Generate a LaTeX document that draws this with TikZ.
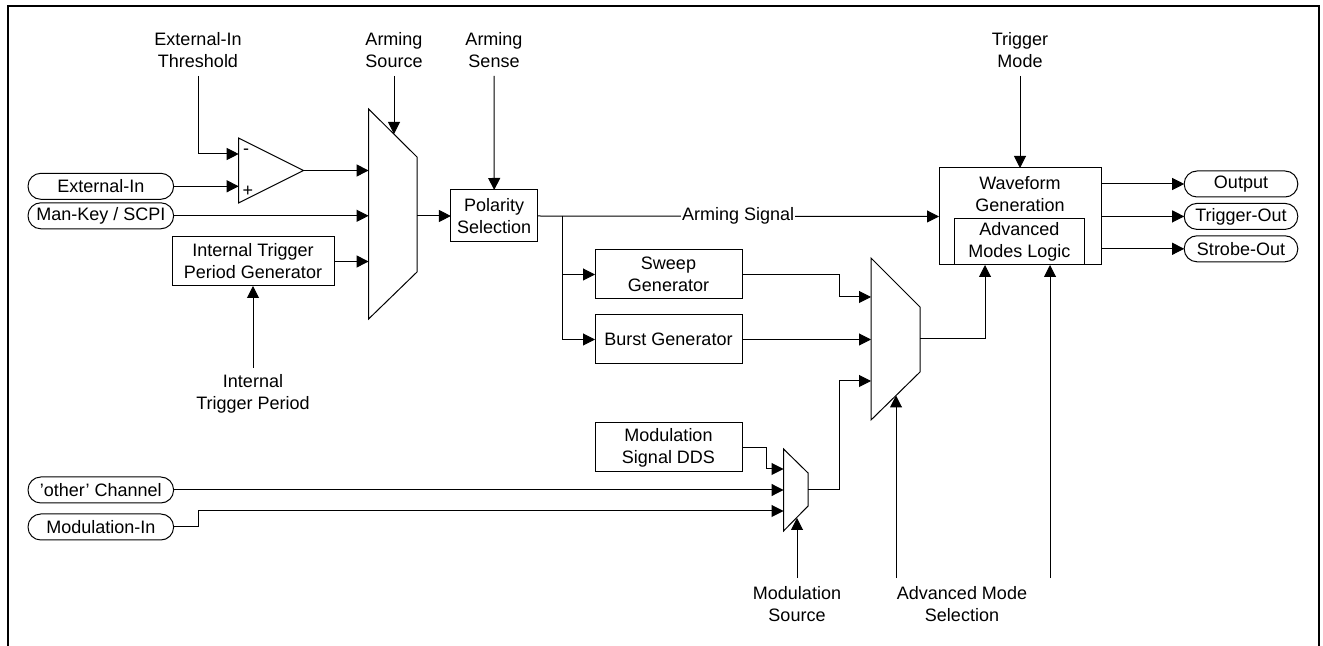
\documentclass[tikz,border=0pt]{standalone}
\usepackage{fontspec}
\setmainfont{Liberation Sans}
\usetikzlibrary{arrows.meta,positioning,calc}

\begin{document}
\begin{tikzpicture}[x=.5pt,y=-.5pt]
    \tikzset{
      txt/.style={font=\fontsize{9}{11}\selectfont,align=center},
      m/.style={txt,draw,line width=.5pt,inner sep=0pt,outer sep=0pt,minimum width=73.5pt,minimum height=24.5pt},
      pill/.style={txt,draw,line width=.5pt,rounded corners=6.4pt,inner sep=0pt,outer sep=0pt,minimum height=13pt},
      lab/.style={txt,inner sep=4pt},
      mux/.style={inner sep=0pt,outer sep=0pt},
      sig/.style={line width=.5pt,-{Triangle[length=6pt,width=6pt]}},
      wire/.style={line width=.5pt}
    }
    \useasboundingbox (0,0) rectangle (1323,646);
    \draw[line width=1pt] (7.5,646) |- (1319,6) -- (1319,646);

    % top and bottom labels
    \node[lab,anchor=south] (thr) at (198,76) {External-In\\Threshold};
    \node[lab,anchor=south] (armsrc) at (394,76) {Arming\\Source};
    \node[lab,anchor=south] (armsns) at (494,76) {Arming\\Sense};
    \node[lab,anchor=south] (trgmode) at (1020,76) {Trigger\\Mode};
    \node[lab,anchor=north,inner sep=2.85pt] (itp) at (253,368) {Internal\\Trigger Period};
    \node[lab,anchor=north] (modsrc) at (797,578) {Modulation\\Source};
    \node[lab,anchor=north] (advsel) at (962,578) {Advanced Mode\\Selection};

    % inputs
    \node[pill,minimum width=72.8pt] (extin) at (100.8,186.3) {External-In};
    \node[pill,minimum width=72.8pt,below=1.75pt of extin] (mankey) {Man-Key / SCPI};
    \node[pill,minimum width=72.8pt] (other) at (100.8,490) {\symbol{39}other\symbol{39} Channel};
    \node[pill,minimum width=72.8pt,below=5.5pt of other] (modin) {Modulation-In};

    % blocks
    \node[m,minimum width=81pt] (itpg) at (253,261.5) {Internal Trigger\\Period Generator};
    \node[m,minimum width=43.3pt,minimum height=26pt] (pol) at (494.2,216) {Polarity\\Selection};
    \node[m] (sweep) at (668.5,274.5) {Sweep\\Generator};
    \node[m,below=8pt of sweep] (burst) {Burst Generator};
    \node[m] (dds) at (668.5,447.5) {Modulation\\Signal DDS};
    \node[m,minimum width=81pt,minimum height=48.5pt] (wave) at (1020,216.5) {};
    \node[txt,inner sep=0pt] (wavetxt) at (1020,194) {Waveform\\Generation};
    \node[m,minimum width=64.8pt,minimum height=23pt] (adv) at (1019.3,242) {Advanced\\Modes Logic};

    % outputs
    \node[pill,minimum width=56.8pt] (outp) at (1241,184) {Output};
    \node[pill,minimum width=56.8pt,below=3.2pt of outp] (trgout) {Trigger-Out};
    \node[pill,minimum width=56.8pt,below=3.2pt of trgout] (strobe) {Strobe-Out};

    % amplifier and selectors
    \node[mux,minimum width=32.5pt,minimum height=32.5pt] (amp) at (271,170.5) {};
    \draw[wire] (amp.north west) -- (amp.east) -- (amp.south west) -- cycle;
    \node[txt,inner sep=0pt] (ampm) at (246,152) {-};
    \node[txt,inner sep=0pt] (ampp) at (248,191) {+};
    \node[mux,minimum width=24.2pt,minimum height=105pt] (mux1) at (392.8,214) {};
    \draw[wire] (mux1.north west) -- ([yshift=-24pt]mux1.north east) -- ([yshift=23.5pt]mux1.south east) -- (mux1.south west) -- cycle;
    \node[mux,minimum width=24.5pt,minimum height=81pt] (mux2) at (895.5,339) {};
    \draw[wire] (mux2.north west) -- ([yshift=-24.5pt]mux2.north east) -- ([yshift=24pt]mux2.south east) -- (mux2.south west) -- cycle;
    \node[mux,minimum width=12.25pt,minimum height=41pt] (mux3) at (795.8,490) {};
    \draw[wire] (mux3.north west) -- ([yshift=-12pt]mux3.north east) -- ([yshift=12.5pt]mux3.south east) -- (mux3.south west) -- cycle;

    \coordinate (ampa) at (238.7,154);
    \coordinate (ampb) at (238.7,186.3);
    \coordinate (mux1s) at (394,134);
    \coordinate (split) at (562,216);
    \coordinate (bendsw) at (839,297);
    \coordinate (mux2a) at (871,297);
    \coordinate (bendmod) at (839,381);
    \coordinate (mux2c) at (871,381);
    \coordinate (mux2s) at (896,395.5);
    \coordinate (ddsbend) at (766,469);
    \coordinate (mux3a) at (783.5,469);
    \coordinate (modbend) at (198,511);
    \coordinate (mux3c) at (783.5,511);
    \coordinate (mux3s) at (797,518);
    \coordinate (sela) at (896,578);
    \coordinate (selb) at (1050,578);
    \coordinate (advin) at (985,265);
    \coordinate (advs) at (1050,265);

    \draw[sig] (thr.south) |- (ampa);
    \draw[sig] (extin.east) -- (ampb);
    \draw[sig] (amp.east) -- (amp.east -| mux1.west);
    \draw[sig] (mankey.east) -- (mankey.east -| mux1.west);
    \draw[sig] (itpg.east) -- (itpg.east -| mux1.west);
    \draw[sig] (itp.north) -- (itpg.south);
    \draw[sig] (armsrc.south) -- (mux1s);
    \draw[sig] (mux1.east |- pol.west) -- (pol.west);
    \draw[sig] (armsns.south) -- (pol.north);
    \draw[sig] (pol.east) -- node[txt,fill=white,inner sep=.5pt] (armsig) {Arming Signal} (wave.west);
    \draw[sig] (split) |- (sweep.west);
    \draw[sig] (split) |- (burst.west);
    \draw[sig] (sweep.east) -| (bendsw) -- (mux2a);
    \draw[sig] (burst.east) -- (burst.east -| mux2.west);
    \draw[sig] (mux3.east) -| (bendmod) -- (mux2c);
    \draw[sig] (mux2.east) -| (advin);
    \draw[sig] (sela) -- (mux2s);
    \draw[sig] (selb) -- (advs);
    \draw[sig] (dds.east) -| (ddsbend) -- (mux3a);
    \draw[sig] (other.east) -- (other.east -| mux3.west);
    \draw[sig] (modin.east) -| (modbend) -- (mux3c);
    \draw[sig] (modsrc.north) -- (mux3s);
    \draw[sig] (trgmode.south) -- (wave.north);
    \draw[sig] (wave.east |- outp.west) -- (outp.west);
    \draw[sig] (wave.east |- trgout.west) -- (trgout.west);
    \draw[sig] (wave.east |- strobe.west) -- (strobe.west);
\end{tikzpicture}
\end{document}
